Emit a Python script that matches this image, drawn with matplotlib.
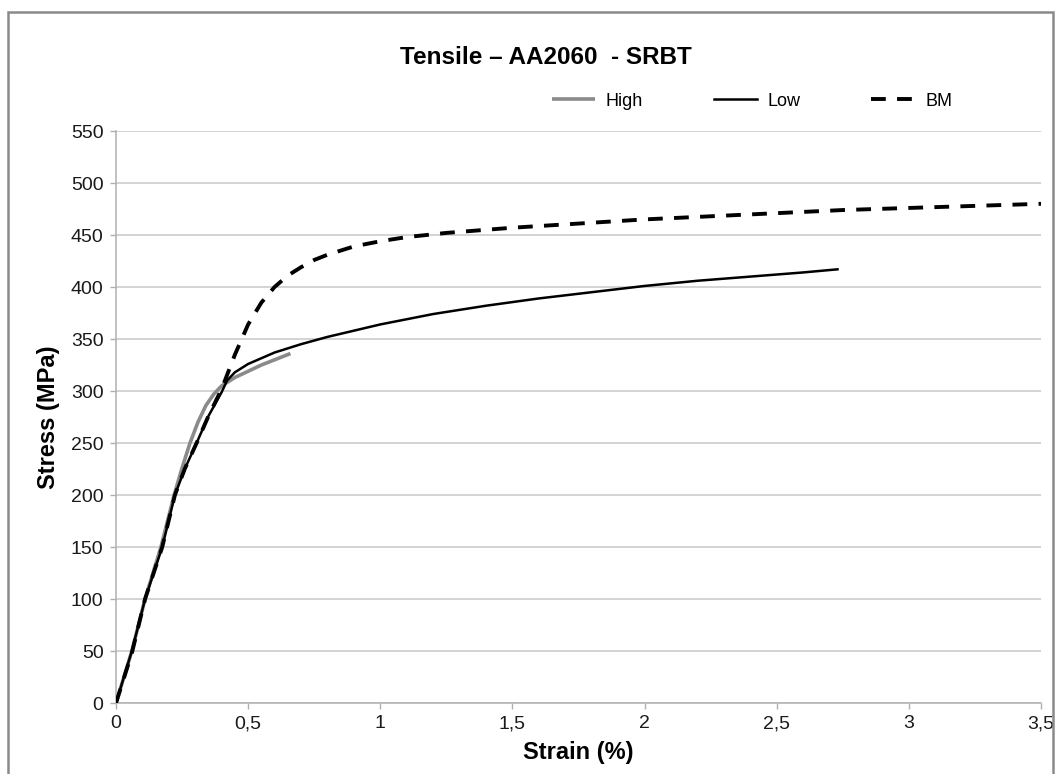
import matplotlib
matplotlib.use("Agg")
import matplotlib.pyplot as plt
from matplotlib.patches import Rectangle
from matplotlib.ticker import FuncFormatter

plt.rcParams['font.family'] = ['Liberation Sans', 'DejaVu Sans']

# Stress-strain curves (strain in %, stress in MPa)
high_strain = [0, 0.06, 0.11, 0.17, 0.22, 0.25, 0.28, 0.31, 0.34, 0.37, 0.40,
               0.45, 0.50, 0.55, 0.60, 0.66]
high_stress = [0, 50, 100, 150, 200, 226, 250, 270, 286, 297, 305,
               313, 319, 325, 330, 336]

low_strain = [0, 0.06, 0.11, 0.175, 0.223, 0.26, 0.305, 0.35, 0.40, 0.42, 0.45,
              0.50, 0.60, 0.70, 0.80, 0.90, 1.0, 1.2, 1.4, 1.6, 1.8, 2.0, 2.2,
              2.4, 2.6, 2.73]
low_stress = [0, 50, 100, 150, 200, 225, 250, 276, 299, 310, 318,
              326, 337, 345, 352, 358, 364, 374, 382, 389, 395, 401, 406,
              410, 414, 417]

bm_strain = [0, 0.06, 0.11, 0.175, 0.223, 0.26, 0.305, 0.35, 0.40, 0.45, 0.50,
             0.55, 0.60, 0.65, 0.70, 0.75, 0.80, 0.90, 1.0, 1.1, 1.25, 1.5,
             1.75, 2.0, 2.25, 2.5, 2.75, 3.0, 3.25, 3.5]
bm_stress = [0, 48, 100, 150, 200, 225, 250, 276, 302, 335, 364,
             385, 400, 411, 419, 426, 431, 439, 444, 448, 452, 457,
             461, 465, 468, 471, 474, 476, 478, 480]

x_ticks = [0, 0.5, 1, 1.5, 2, 2.5, 3, 3.5]
y_ticks = list(range(0, 551, 50))

W, H = 1061, 774
fig = plt.figure(figsize=(W / 100, H / 100), dpi=100)
ax = fig.add_axes([116 / W, 1 - 703 / H, (1041 - 116) / W, (703 - 131) / H])

ax.plot(high_strain, high_stress, color='#8a8a8a', lw=2.6, label='High',
        solid_capstyle='butt', solid_joinstyle='round', zorder=3)
ax.plot(low_strain, low_stress, color='black', lw=1.8, label='Low',
        solid_joinstyle='round', zorder=4)
ax.plot(bm_strain, bm_stress, color='black', lw=2.8, dashes=(3.8, 2.9),
        label='BM', zorder=5)

ax.set_xlim(0, 3.5)
ax.set_ylim(0, 550)
ax.set_xticks(x_ticks)
ax.set_yticks(y_ticks)
ax.xaxis.set_major_formatter(FuncFormatter(lambda v, p: f"{v:g}".replace('.', ',')))
ax.grid(axis='y', color='#c8c8c8', lw=1.1)
ax.set_axisbelow(True)
for s in ('top', 'right'):
    ax.spines[s].set_visible(False)
for s in ('left', 'bottom'):
    ax.spines[s].set_color('#b0b0b0')
    ax.spines[s].set_linewidth(1.1)
ax.tick_params(axis='both', direction='out', length=4, width=1, color='#b0b0b0',
               labelsize=14, labelcolor='#1a1a1a', pad=5)

ax.set_xlabel('Strain (%)', fontsize=17, fontweight='bold', labelpad=6)
ax.set_ylabel('Stress (MPa)', fontsize=17, fontweight='bold', labelpad=8)

fig.text(546 / W, 1 - 58 / H, 'Tensile \u2013 AA2060  - SRBT', ha='center', va='center',
         fontsize=17.5, fontweight='bold')

ax.legend(loc='center', bbox_to_anchor=(752 / W, 1 - 101 / H),
          bbox_transform=fig.transFigure, ncol=3, frameon=False, fontsize=13,
          handlelength=2.4, handletextpad=0.6, columnspacing=3.9)

fig.add_artist(Rectangle((8 / W, -0.01), (1053 - 8) / W, (H - 12) / H + 0.01,
                         transform=fig.transFigure, fill=False,
                         edgecolor='#8a8a8a', lw=1.8))

fig.savefig('out.png', dpi=100)
